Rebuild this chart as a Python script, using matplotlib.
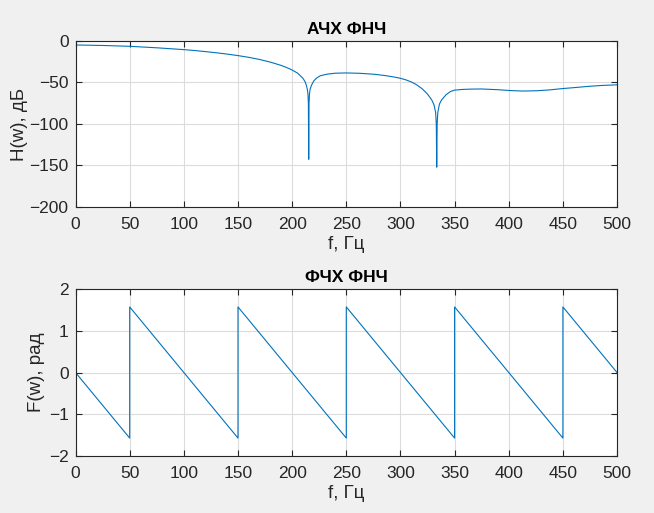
import matplotlib
matplotlib.use("Agg")
import matplotlib.pyplot as plt

plt.rcParams['font.family'] = ['Liberation Sans', 'DejaVu Sans']

# АЧХ, values (Hz, dB)
mag_f = [0, 25, 50, 75, 100, 110, 120, 130, 140, 150, 160, 170, 180, 190, 195, 200, 205,
         207.3, 210, 211.9, 213, 214, 214.6, 215.0, 215.3, 215.6, 216.0, 216.6, 218, 220,
         222.7, 225.8, 232, 240, 250, 262, 275, 285, 295, 300, 305, 310, 315, 320, 325,
         328.9, 331, 332.5, 333.1, 333.5, 333.9, 334.5, 336, 338, 342, 346, 350, 357, 364,
         375, 390, 400, 412, 425, 437, 450, 462, 475, 487, 500]
mag_db = [-4.8, -5.4, -6.4, -8.2, -10.4, -11.5, -12.8, -14.2, -15.8, -17.6, -19.7, -22.3,
          -25.5, -29.5, -32, -35, -38.7, -41.5, -45, -49, -53, -58, -64, -75, -142.5, -75,
          -64, -58, -53, -48, -44.6, -42, -40, -38.8, -38.5, -38.9, -40, -41.5, -43.6,
          -45, -46.8, -49.3, -52.8, -57.5, -64, -71, -77, -86, -100, -152, -100, -86, -76,
          -71, -65, -61, -59.2, -58.4, -58, -57.8, -58.7, -59.6, -60.3, -60, -59, -57.3,
          -56, -54.5, -53.5, -52.8]

# ФЧХ, vertices of the sawtooth (Hz, rad)
ph_f = [0, 50, 50, 150, 150, 250, 250, 350, 350, 450, 450, 500]
ph_rad = [0, -1.571, 1.571, -1.571, 1.571, -1.571, 1.571, -1.571, 1.571, -1.571, 1.571, 0]

LINE = '#0072BD'
EDGE = '#262626'


def style(ax):
    ax.set_facecolor('white')
    ax.grid(True, color='#dcdcdc', linewidth=0.8)
    ax.set_axisbelow(True)
    ax.tick_params(direction='in', top=True, right=True, length=4, width=0.8,
                   colors=EDGE, labelsize=12.5)
    ax.tick_params(axis='x', pad=7)
    ax.tick_params(axis='y', pad=5)
    for sp in ax.spines.values():
        sp.set_color(EDGE)
        sp.set_linewidth(0.8)
    ax.set_xlim(0, 500)
    ax.set_xticks(range(0, 501, 50))


fig = plt.figure(figsize=(6.54, 5.13), dpi=100, facecolor='#f0f0f0')

ax1 = fig.add_axes([0.1155, 0.5965, 0.828, 0.3236])
ax1.plot(mag_f, mag_db, color=LINE, linewidth=0.8)
style(ax1)
ax1.set_ylim(-200, 0)
ax1.set_yticks(range(-200, 1, 50))
ax1.set_title('АЧХ ФНЧ', fontsize=12.5, fontweight='bold', color='black', pad=5)
ax1.set_xlabel('f, Гц', fontsize=13.5, color=EDGE, labelpad=3)
ax1.set_ylabel('H(w), дБ', fontsize=13.5, color=EDGE, labelpad=1)

ax2 = fig.add_axes([0.1155, 0.1111, 0.828, 0.3255])
ax2.plot(ph_f, ph_rad, color=LINE, linewidth=0.8)
style(ax2)
ax2.set_ylim(-2, 2)
ax2.set_yticks([-2, -1, 0, 1, 2])
ax2.set_title('ФЧХ ФНЧ', fontsize=12.5, fontweight='bold', color='black', pad=5)
ax2.set_xlabel('f, Гц', fontsize=13.5, color=EDGE, labelpad=3)
ax2.set_ylabel('F(w), рад', fontsize=13.5, color=EDGE, labelpad=3)

fig.savefig('out.png', dpi=100, facecolor=fig.get_facecolor())
